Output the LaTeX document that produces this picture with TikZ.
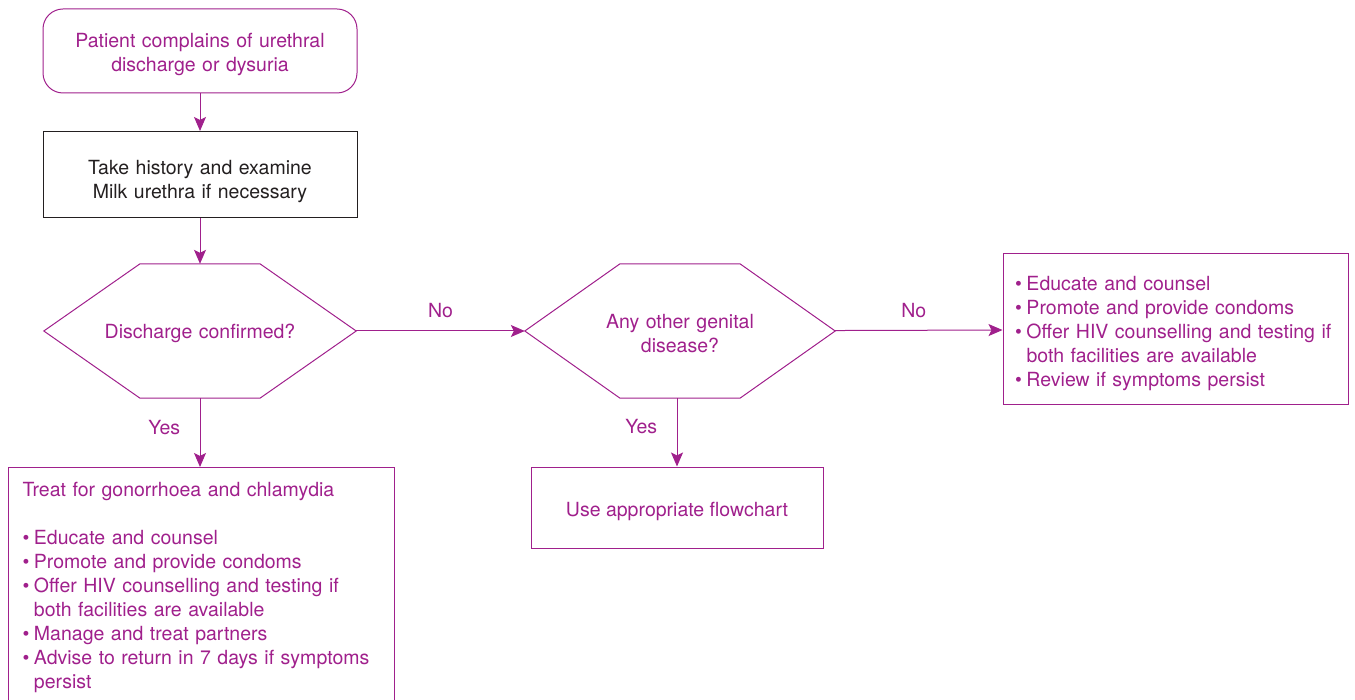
\documentclass[tikz,border=0pt]{standalone}
\usepackage{fontspec}
\setmainfont{TeX Gyre Heros}
\usepackage{xcolor}
\usepackage{tikz}
\usetikzlibrary{arrows.meta,positioning,calc}

\definecolor{plum}{RGB}{160,32,140}
\definecolor{inkblack}{RGB}{35,31,32}
\newcommand{\bul}{\makebox[11.5pt][l]{\textbullet}}
\newcommand{\hang}{\hspace*{11.5pt}}

\begin{document}
\begin{tikzpicture}[x=1pt, y=-1pt,
    every node/.style={font=\fontsize{19.5}{24}\selectfont},
    drop/.style={execute at begin node={\rule{0pt}{\dimexpr 14pt+2pt*#1\relax}}},
    startbox/.style={draw=plum, line width=1pt, rounded corners=20pt, text=plum, align=center, text width=290pt, minimum width=314pt, minimum height=84pt},
    histbox/.style={draw=inkblack, line width=1pt, text=inkblack, align=center, text width=290pt, minimum width=314pt, minimum height=86pt},
    decision/.style={text=plum, align=center, text width=220pt, minimum width=312pt, minimum height=134pt, inner sep=0pt},
    listbox/.style={draw=plum, line width=1pt, text=plum, align=left},
    plainbox/.style={draw=plum, line width=1pt, text=plum, align=center},
    flow/.style={draw=plum, line width=1pt, -{Stealth[length=14pt, width=12pt, inset=3pt]}},
    answer/.style={text=plum}]
    \useasboundingbox (0,0) rectangle (1355,700);
    \clip (0,0) rectangle (1355,700);

    % Top of the chart
    \node[startbox, drop=4] (start) at (200,51) {Patient complains of urethral\\discharge or dysuria};
    \node[histbox, drop=7] (hist) at (200,174.5) {Take history and examine\\Milk urethra if necessary};

    % Decisions
    \node[decision, drop=3] (disch) at (200,331) {Discharge confirmed?};
    \node[decision, drop=3, minimum width=310pt] (other) at (680,331) {Any other genital\\disease?};
    \foreach \d in {disch,other}
        \draw[plum, line width=1pt] (\d.west) -- ($(\d.north)+(-60,0)$) -- ($(\d.north)+(60,0)$)
            -- (\d.east) -- ($(\d.south)+(60,0)$) -- ($(\d.south)+(-60,0)$) -- cycle;

    % Outcomes
    \node[listbox, anchor=north west, text width=358pt, inner xsep=14pt, inner ysep=15pt] (treat) at (8,467)
        {Treat for gonorrhoea and chlamydia\\[24pt]
         \bul Educate and counsel\\
         \bul Promote and provide condoms\\
         \bul Offer HIV counselling and testing if\\
         \hang both facilities are available\\
         \bul Manage and treat partners\\
         \bul Advise to return in 7 days if symptoms\\
         \hang persist};
    \node[plainbox, drop=4, minimum width=292pt, minimum height=81pt] (usechart) at (677,507.5) {Use appropriate flowchart};
    \node[listbox, drop=4, text width=321pt, inner xsep=12pt, minimum height=151pt] (advice) at (1175.5,329.5)
        {\bul Educate and counsel\\
         \bul Promote and provide condoms\\
         \bul Offer HIV counselling and testing if\\
         \hang both facilities are available\\
         \bul Review if symptoms persist};

    % Connectors
    \draw[flow] (start) -- (hist);
    \draw[flow] (hist) -- (disch);
    \draw[flow] (disch) -- node[answer, above=9pt] {No} (other);
    \draw[flow] (other) -- node[answer, above=9pt, xshift=-5pt] {No} (advice);
    \draw[flow] (disch.south) -- node[answer, left=16pt, pos=0.42] {Yes} (disch.south |- treat.north);
    \draw[flow] (other.south -| usechart.north) -- node[answer, left=16pt, pos=0.42] {Yes} (usechart.north);
\end{tikzpicture}
\end{document}
